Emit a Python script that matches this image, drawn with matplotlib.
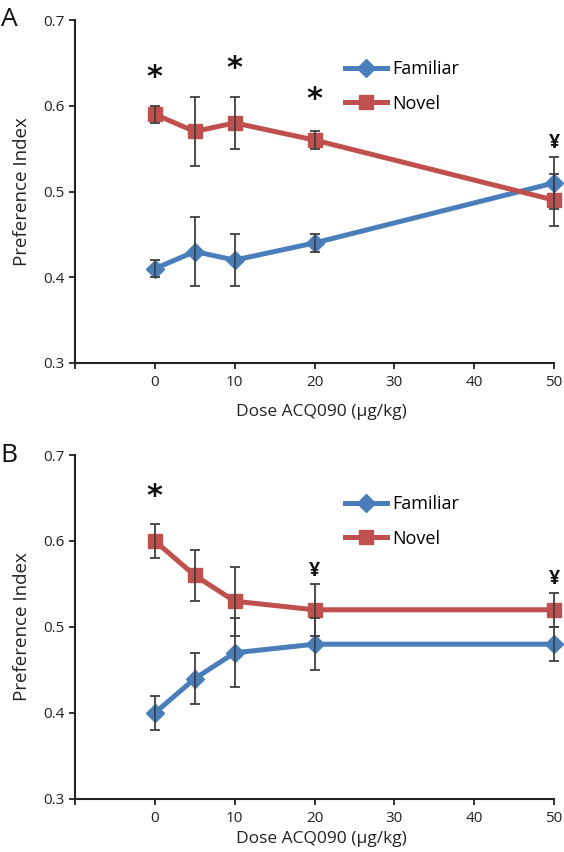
import matplotlib
matplotlib.use('Agg')
import matplotlib.pyplot as plt

plt.rcParams['font.family'] = ['Open Sans', 'DejaVu Sans']

doses = [0, 5, 10, 20, 50]
xticks = [-10, 0, 10, 20, 30, 40, 50]
xtick_labels = ['', '0', '10', '20', '30', '40', '50']
yticks = [0.3, 0.4, 0.5, 0.6, 0.7]

# panel A
fam_a = [0.41, 0.43, 0.42, 0.44, 0.51]
fam_a_err = [0.01, 0.04, 0.03, 0.01, 0.03]
nov_a = [0.59, 0.57, 0.58, 0.56, 0.49]
nov_a_err = [0.01, 0.04, 0.03, 0.01, 0.03]
marks_a = [(0, 0.633, '*'), (10, 0.644, '*'), (20, 0.607, '*'), (50, 0.557, '¥')]

# panel B
fam_b = [0.40, 0.44, 0.47, 0.48, 0.48]
fam_b_err = [0.02, 0.03, 0.04, 0.03, 0.02]
nov_b = [0.60, 0.56, 0.53, 0.52, 0.52]
nov_b_err = [0.02, 0.03, 0.04, 0.03, 0.02]
marks_b = [(0, 0.652, '*'), (20, 0.565, '¥'), (50, 0.556, '¥')]

blue = '#4a7ebb'
red = '#c0504d'
errc = '#404040'

fig = plt.figure(figsize=(5.64, 8.52), dpi=100)
axA = fig.add_axes([75/564, 1-363/852, 479/564, 343/852])
axB = fig.add_axes([75/564, 1-799/852, 479/564, 344/852])


def panel(ax, fam, fam_err, nov, nov_err, marks, letter, xpad):
    ax.plot(doses, fam, color=blue, lw=3.6, marker='D', ms=9, label='Familiar',
            clip_on=False, zorder=3)
    ax.plot(doses, nov, color=red, lw=3.6, marker='s', ms=10.5, label='Novel',
            clip_on=False, zorder=3)
    ax.errorbar(doses, fam, yerr=fam_err, fmt='none', ecolor=errc, elinewidth=1.3,
                capsize=3.5, capthick=1.3, zorder=4, clip_on=False)
    ax.errorbar(doses, nov, yerr=nov_err, fmt='none', ecolor=errc, elinewidth=1.3,
                capsize=3.5, capthick=1.3, zorder=4, clip_on=False)
    for x, y, s in marks:
        if s == '*':
            ax.text(x, y, s, ha='center', va='center', fontsize=22, fontweight='bold',
                    family=['DejaVu Sans'], color='#111111')
        else:
            ax.text(x, y, s, ha='center', va='center', fontsize=14, fontweight='bold',
                    color='#111111')
    ax.set_xlim(-10, 50)
    ax.set_ylim(0.3, 0.7)
    ax.set_xticks(xticks)
    ax.set_xticklabels(xtick_labels)
    ax.set_yticks(yticks)
    ax.set_yticklabels(['%.1f' % v for v in yticks])
    ax.tick_params(labelsize=11, length=4, width=1.3, color='#222222', labelcolor='#222222')
    ax.tick_params(axis='x', pad=5)
    for s in ['top', 'right']:
        ax.spines[s].set_visible(False)
    for s in ['left', 'bottom']:
        ax.spines[s].set_linewidth(1.5)
        ax.spines[s].set_color('#222222')
    ax.set_xlabel('Dose ACQ090 (µg/kg)', fontsize=12.5, color='#222222', labelpad=xpad)
    ax.xaxis.label.set_x(0.515)
    ax.set_ylabel('Preference Index', fontsize=13.5, color='#222222', labelpad=9)
    ax.legend(loc='upper left', bbox_to_anchor=(0.53, 0.93), frameon=False, fontsize=13,
              handlelength=2.3, labelspacing=0.9, handletextpad=0.3)
    ax.text(-0.155, 1.0, letter, transform=ax.transAxes, fontsize=19, ha='left', va='center',
            color='#111111')


panel(axA, fam_a, fam_a_err, nov_a, nov_a_err, marks_a, 'A', 10)
panel(axB, fam_b, fam_b_err, nov_b, nov_b_err, marks_b, 'B', 3)

fig.savefig('out.png', dpi=100)
